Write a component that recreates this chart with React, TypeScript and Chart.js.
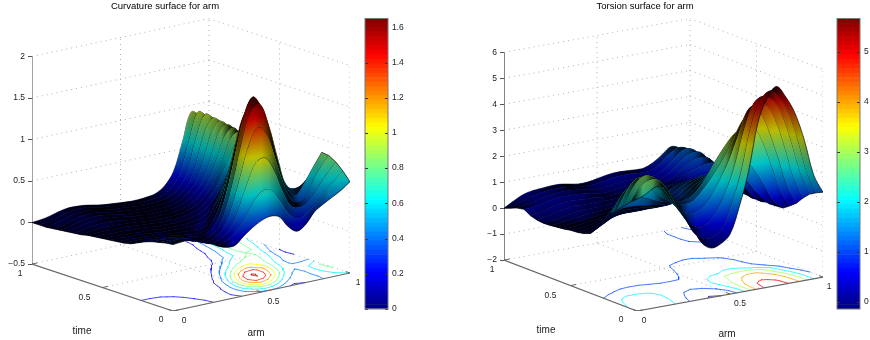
import React, { useEffect, useRef } from "react";
import { Chart, registerables } from "chart.js";

Chart.register(...registerables);

const FONT = "'Liberation Sans', Arial, sans-serif";

const armGrid = [0, .05, .1, .15, .2, .25, .3, .35, .4, .45, .5, .55, .6, .65, .7, .75, .8, .85, .9, .95, 1];
const timeGrid = armGrid;

// rows run from time = 0 to time = 1, columns from arm = 0 to arm = 1
const curvatureRows = [
  [.30,.31,.32,.28,.24,.17,.13,.13,.22,.30,.36,.39,.36,.22,.14,.20,.33,.40,.46,.52,.60],
  [.29,.30,.30,.27,.22,.17,.13,.17,.26,.40,.57,.67,.64,.48,.31,.24,.30,.38,.50,.60,.70],
  [.27,.27,.26,.24,.20,.15,.12,.15,.25,.46,.75,.98,1.01,.84,.56,.36,.33,.38,.52,.66,.78],
  [.25,.25,.24,.22,.18,.14,.11,.13,.22,.44,.80,1.17,1.35,1.24,.91,.57,.37,.36,.52,.70,.83],
  [.22,.22,.21,.19,.16,.12,.09,.10,.16,.36,.72,1.18,1.53,1.58,1.30,.88,.51,.39,.51,.68,.84],
  [.18,.18,.18,.17,.14,.11,.09,.07,.13,.25,.55,.99,1.44,1.64,1.48,1.10,.69,.46,.43,.50,.62],
  [.14,.14,.14,.13,.12,.10,.08,.07,.06,.16,.35,.71,1.14,1.44,1.46,1.21,.84,.53,.38,.35,.38],
  [.12,.12,.12,.11,.10,.09,.07,.06,.05,.06,.21,.44,.76,1.07,1.23,1.15,.91,.62,.40,.30,.26],
  [.11,.11,.10,.10,.09,.08,.07,.06,.05,.05,.07,.27,.47,.73,.93,.99,.91,.72,.49,.30,.20],
  [.10,.10,.09,.09,.08,.07,.06,.06,.05,.05,.07,.10,.29,.48,.70,.83,.86,.80,.60,.32,.18],
  [.09,.09,.08,.08,.07,.07,.06,.05,.05,.05,.06,.08,.14,.28,.52,.69,.79,.84,.71,.40,.20],
  [.08,.09,.08,.08,.07,.07,.06,.05,.05,.04,.05,.07,.11,.19,.32,.50,.68,.80,.76,.50,.28],
  [.07,.08,.08,.08,.08,.07,.06,.05,.04,.04,.05,.06,.09,.15,.26,.44,.66,.84,.84,.62,.38],
  [.05,.07,.08,.08,.08,.07,.06,.05,.04,.04,.04,.05,.07,.11,.20,.36,.60,.84,.88,.70,.47],
  [.04,.06,.08,.09,.09,.08,.06,.05,.04,.03,.03,.04,.05,.09,.16,.30,.54,.82,.90,.76,.55],
  [.03,.05,.08,.09,.09,.08,.07,.05,.04,.03,.03,.03,.04,.07,.13,.25,.48,.80,.91,.82,.62],
  [.02,.04,.07,.09,.10,.09,.07,.05,.04,.03,.02,.02,.03,.05,.10,.20,.43,.77,.92,.84,.68],
  [.01,.02,.06,.09,.10,.09,.07,.05,.04,.03,.02,.02,.02,.04,.07,.16,.37,.74,.93,.86,.73],
  [0,.02,.05,.08,.09,.09,.07,.05,.04,.03,.02,.01,.01,.02,.05,.13,.32,.70,.95,.87,.77],
  [0,.01,.04,.07,.09,.09,.07,.05,.04,.02,.01,.01,.01,.02,.04,.11,.28,.64,.95,.87,.79],
  [0,.01,.03,.06,.08,.08,.07,.05,.03,.02,.01,0,0,.01,.03,.10,.25,.58,.92,.86,.80],
];

const torsionRows = [
  [2.3,2.45,2.65,2.55,2.1,1.4,.8,.15,-.1,0,.3,1.3,2.6,4.4,5.3,5.67,5.2,4.5,3.4,2.0,1.27],
  [2.1,2.6,2.8,2.75,2.3,1.6,1.0,.4,.15,.2,.5,1.4,2.6,4.2,5.1,5.4,5.1,4.45,3.35,2.0,1.15],
  [1.85,2.5,2.85,2.8,2.4,1.8,1.25,.75,.5,.6,1.0,1.7,2.7,4.0,4.9,5.1,4.9,4.3,3.2,1.9,1.0],
  [1.6,2.25,2.65,2.65,2.35,1.9,1.45,1.1,.95,1.05,1.4,2.0,2.7,3.6,4.5,4.7,4.6,4.0,2.9,1.6,.75],
  [1.35,1.9,2.25,2.3,2.15,1.8,1.5,1.25,1.2,1.3,1.65,2.1,2.6,3.2,3.9,4.3,4.25,3.5,2.4,1.2,.45],
  [1.0,1.4,1.7,1.75,1.65,1.5,1.35,1.25,1.2,1.25,1.5,1.95,2.5,3.0,3.4,3.6,3.6,3.0,2.0,.9,.25],
  [.6,.85,1.1,1.2,1.2,1.15,1.1,1.05,1.05,1.05,1.25,1.6,1.85,2.0,2.3,2.4,2.15,1.7,1.05,.4,.07],
  [.3,.5,.7,.9,.95,.95,.9,.85,.85,.9,1.1,1.4,1.6,1.75,1.85,1.85,1.6,1.15,.65,.25,.05],
  [.2,.3,.45,.6,.7,.7,.7,.7,.7,.8,1.0,1.25,1.45,1.55,1.6,1.55,1.35,1.0,.5,.2,.1],
  [.15,.2,.3,.4,.5,.55,.55,.55,.6,.7,.9,1.15,1.3,1.4,1.4,1.35,1.2,.95,.5,.2,.15],
  [.13,.15,.2,.3,.35,.4,.45,.5,.55,.65,.85,1.05,1.15,1.2,1.2,1.15,1.05,.85,.5,.25,.25],
  [.08,.1,.15,.2,.25,.3,.35,.4,.5,.6,.8,.95,1.0,1.05,1.05,.95,.85,.7,.45,.3,.32],
  [.05,.07,.1,.13,.2,.25,.3,.35,.4,.5,.7,.8,.85,.9,.9,.8,.7,.6,.45,.35,.38],
  [.02,.05,.1,.15,.2,.22,.25,.3,.35,.45,.6,.65,.7,.7,.7,.7,.65,.6,.55,.55,.5],
  [0,.05,.13,.2,.25,.25,.25,.3,.3,.4,.5,.55,.55,.55,.55,.6,.7,.75,.8,.8,.6],
  [.03,.1,.2,.27,.32,.3,.3,.3,.3,.35,.42,.45,.45,.45,.45,.55,.75,.9,1.0,1.0,.65],
  [.1,.17,.27,.35,.4,.38,.35,.35,.3,.32,.35,.4,.42,.42,.42,.5,.75,1.0,1.15,1.1,.75],
  [.25,.27,.33,.42,.47,.47,.45,.4,.33,.33,.38,.42,.45,.45,.42,.5,.75,1.05,1.25,1.2,.8],
  [.2,.28,.36,.45,.5,.52,.5,.45,.38,.38,.42,.48,.5,.5,.48,.52,.75,1.05,1.3,1.2,.8],
  [.1,.25,.38,.47,.52,.54,.52,.45,.42,.43,.48,.55,.58,.58,.55,.56,.75,1.05,1.25,1.15,.78],
  [0,.2,.38,.47,.5,.53,.53,.47,.41,.42,.48,.55,.59,.58,.56,.56,.7,.95,1.2,1.05,.7],
];

const curvatureZTicks = [-.5, 0, .5, 1, 1.5, 2];
const torsionZTicks = [-2, -1, 0, 1, 2, 3, 4, 5, 6];
const curvatureBarTicks = [0, .2, .4, .6, .8, 1, 1.2, 1.4, 1.6];
const torsionBarTicks = [0, 1, 2, 3, 4, 5];
const curvatureLevels = [.2, .4, .6, .8, 1, 1.2, 1.4, 1.6];
const torsionLevels = [0, 1, 2, 3, 4, 5];
const floorTicks = [0, .5, 1];
const curvatureRange = [0, 1.65];
const torsionRange = [-.147, 5.67];

const clamp01 = (v: number) => Math.max(0, Math.min(1, v));
const jetParts = (x: number) => [3, 2, 1].map((o) => Math.round(255 * clamp01(1.5 - Math.abs(4 * x - o))));
const jet = (x: number) => `rgb(${jetParts(x).join(",")})`;
const jetAlpha = (x: number, al: number) => `rgba(${jetParts(x).join(",")},${al})`;
const jetStops = [0, .125, .25, .375, .5, .625, .75, .875, 1];
const fmt = (v: number) => (v < 0 ? "\u2212" : "") + String(Math.abs(v));

type Panel = {
  rows: number[][]; zTicks: number[]; levels: number[]; range: number[];
  armDx: number; timeDx: number; armDy: number; timeDy: number; zPx: number;
  canvasLeft: number; canvasWidth: number; axisLeft: number; padRight: number; axisWidth: number;
  title: string; titleX: number; armLabel: number[]; timeLabel: number[];
  armOffsets: number[][]; timeOffsets: number[][];
};

const panels: Panel[] = [
  {
    rows: curvatureRows, zTicks: curvatureZTicks, levels: curvatureLevels, range: curvatureRange,
    armDx: 177, timeDx: 141, armDy: 38, timeDy: 47, zPx: 83,
    canvasLeft: 0, canvasWidth: 370, axisLeft: 32, padRight: 20, axisWidth: 1.2,
    title: "Curvature surface for arm", titleX: 165, armLabel: [256, 333], timeLabel: [82, 331],
    armOffsets: [[11, 10], [12, 10], [8, 10]], timeOffsets: [[-12, 9], [-18, 10], [-12, 10]],
  },
  {
    rows: torsionRows, zTicks: torsionZTicks, levels: torsionLevels, range: torsionRange,
    armDx: 186, timeDx: 133, armDy: 34, timeDy: 51, zPx: 26,
    canvasLeft: 440, canvasWidth: 400, axisLeft: 64, padRight: 17, axisWidth: 1.6,
    title: "Torsion surface for arm", titleX: 645, armLabel: [727, 334], timeLabel: [546, 330],
    armOffsets: [[7, 10], [10, 10], [6, 10]], timeOffsets: [[-16, 9], [-20, 10], [-12, 10]],
  },
];

function buildDatasets(p: Panel) {
  const zMin = p.zTicks[0];
  const zMax = p.zTicks[p.zTicks.length - 1];
  const width = p.armDx + p.timeDx;
  const pt = (a: number, t: number, z: number) => ({
    x: (p.armDx * a + p.timeDx * (1 - t)) / width,
    y: z + (p.armDy * a - p.timeDy * (1 - t)) / p.zPx,
  });
  const line = (data: any[], color: string, w: number, dash: number[] = []) => ({
    data, showLine: true, pointRadius: 0, borderColor: color, borderWidth: w, borderDash: dash,
    fill: false, tension: 0,
  });
  const out: any[] = [];
  const dot = (data: any[]) => out.push(line(data, "#b0b0b0", 1, [1, 4]));
  // walls
  p.zTicks.forEach((z) => {
    dot([pt(0, 1, z), pt(1, 1, z)]);
    dot([pt(1, 1, z), pt(1, 0, z)]);
  });
  dot([pt(.5, 1, zMin), pt(.5, 1, zMax)]);
  dot([pt(1, 1, zMin), pt(1, 1, zMax)]);
  dot([pt(1, .5, zMin), pt(1, .5, zMax)]);
  dot([pt(1, 0, zMin), pt(1, 0, zMax)]);
  // floor
  dot([pt(.5, 0, zMin), pt(.5, 1, zMin)]);
  dot([pt(0, .5, zMin), pt(1, .5, zMin)]);

  p.levels.forEach((lv) => {
    const segs: any[] = [];
    for (let j = 0; j < timeGrid.length - 1; j++) {
      for (let i = 0; i < armGrid.length - 1; i++) {
        const c = [
          [armGrid[i], timeGrid[j], p.rows[j][i]],
          [armGrid[i + 1], timeGrid[j], p.rows[j][i + 1]],
          [armGrid[i + 1], timeGrid[j + 1], p.rows[j + 1][i + 1]],
          [armGrid[i], timeGrid[j + 1], p.rows[j + 1][i]],
        ];
        const hits: any[] = [];
        for (let k = 0; k < 4; k++) {
          const A = c[k];
          const B = c[(k + 1) % 4];
          if ((A[2] > lv) !== (B[2] > lv)) {
            const f = (lv - A[2]) / (B[2] - A[2]);
            hits.push(pt(A[0] + f * (B[0] - A[0]), A[1] + f * (B[1] - A[1]), zMin));
          }
        }
        for (let k = 0; k + 1 < hits.length; k += 2) {
          segs.push(hits[k], hits[k + 1], { x: NaN, y: NaN });
        }
      }
    }
    const col = jetAlpha((lv - p.range[0]) / (p.range[1] - p.range[0]), 0.72);
    out.push({ ...line(segs, col, 1), borderCapStyle: "round", spanGaps: false });
  });

  // axes
  const axisCol = "#666";
  out.push(line([pt(0, 1, zMin), pt(0, 1, zMax)], axisCol, p.axisWidth));
  out.push(line([pt(0, 1, zMin), pt(0, 0, zMin), pt(1, 0, zMin)], axisCol, 1.2));
  floorTicks.forEach((v) => {
    out.push(line([pt(v, 0, zMin), pt(v, .03, zMin)], axisCol, 1));
    out.push(line([pt(0, v, zMin), pt(.03, v, zMin)], axisCol, 1));
  });

  // surface strips between neighbouring time rows, far strips first
  const n = armGrid.length;
  const tension = 0.35;
  const rowLine = (j: number) => ({
    ...line(armGrid.map((a, i) => pt(a, timeGrid[j], p.rows[j][i])), "rgba(0,0,0,0.85)", 0.75),
    tension,
  });
  const zSpan = p.range[1] - p.range[0];
  const L = Math.hypot(p.armDx, p.armDy);
  out.push(rowLine(n - 1));
  for (let j = n - 2; j >= 0; j--) {
    const t0 = timeGrid[j], t1 = timeGrid[j + 1], tm = (t0 + t1) / 2;
    const near = armGrid.map((a, i) => pt(a, t0, p.rows[j][i]));
    const far = armGrid.map((a, i) => pt(a, t1, p.rows[j + 1][i])).reverse();
    // repeated corners keep the strip's ends sharp under the curve tension
    const shape = [near[0], ...near, near[n - 1], far[0], ...far, far[n - 1], near[0]];
    const colourFill = (c: any) => {
      const { chart } = c;
      if (!chart.chartArea) return "transparent";
      const { x: sx, y: sy } = chart.scales;
      const o = pt(0, tm, p.range[0]);
      const x0 = sx.getPixelForValue(o.x);
      const y0 = sy.getPixelForValue(o.y);
      const d = (p.zPx * zSpan * p.armDx) / L;
      const g = chart.ctx.createLinearGradient(x0, y0, x0 - (d * p.armDy) / L, y0 - (d * p.armDx) / L);
      jetStops.forEach((s) => g.addColorStop(s, jet(s)));
      return g;
    };
    const shadeFill = (c: any) => {
      const { chart } = c;
      if (!chart.chartArea) return "transparent";
      const { x: sx } = chart.scales;
      const g = chart.ctx.createLinearGradient(
        sx.getPixelForValue(pt(0, tm, 0).x), 0, sx.getPixelForValue(pt(1, tm, 0).x), 0,
      );
      const da = armGrid[1] - armGrid[0];
      armGrid.forEach((a, i) => {
        const lo = Math.max(0, i - 1), hi = Math.min(n - 1, i + 1);
        const dzA = ((p.rows[j][hi] + p.rows[j + 1][hi]) - (p.rows[j][lo] + p.rows[j + 1][lo])) / (2 * (hi - lo));
        const dzT = p.rows[j + 1][i] - p.rows[j][i];
        const ax = p.armDx * da, ay = p.armDy * da + p.zPx * dzA;
        const tx = -p.timeDx * (t1 - t0), ty = p.timeDy * (t1 - t0) + p.zPx * dzT;
        const area = Math.abs(ax * ty - ay * tx);
        const alpha = Math.min(0.93, (1.8 * (Math.hypot(ax, ay) + Math.hypot(tx, ty))) / Math.max(area, 1));
        g.addColorStop(a, `rgba(0,0,0,${alpha.toFixed(3)})`);
      });
      return g;
    };
    const base = { data: shape, showLine: true, pointRadius: 0, tension, fill: "shape", borderWidth: 0 };
    out.push({ ...base, backgroundColor: colourFill });
    out.push({ ...base, backgroundColor: shadeFill });
    out.push(line([near[0], pt(0, t1, p.rows[j + 1][0])], "rgba(0,0,0,0.85)", 0.8));
    out.push(line([near[n - 1], pt(1, t1, p.rows[j + 1][n - 1])], "rgba(0,0,0,0.85)", 0.8));
    out.push(rowLine(j));
  }
  // chart.js paints the first dataset last
  return { datasets: out.reverse(), pt };
}

function makePanel(canvas: HTMLCanvasElement, p: Panel) {
  const { datasets, pt } = buildDatasets(p);
  const zMin = p.zTicks[0];
  const yMin = zMin - p.timeDy / p.zPx;
  const yMax = p.zTicks[p.zTicks.length - 1] + p.armDy / p.zPx;
  const overlay = {
    id: "overlay",
    afterDraw(chart: any) {
      const { ctx, scales } = chart;
      const px = (q: any) => [scales.x.getPixelForValue(q.x), scales.y.getPixelForValue(q.y)];
      ctx.save();
      ctx.textAlign = "center";
      ctx.textBaseline = "middle";
      ctx.fillStyle = "#222";
      ctx.font = `8.5px ${FONT}`;
      floorTicks.forEach((v, k) => {
        const [ax, ay] = px(pt(v, 0, zMin));
        ctx.fillText(String(v), ax + p.armOffsets[k][0], ay + p.armOffsets[k][1]);
        const [tx, ty] = px(pt(0, v, zMin));
        ctx.fillText(String(v), tx + p.timeOffsets[k][0], ty + p.timeOffsets[k][1]);
      });
      ctx.font = `10px ${FONT}`;
      ctx.fillText("arm", p.armLabel[0] - p.canvasLeft, p.armLabel[1]);
      ctx.fillText("time", p.timeLabel[0] - p.canvasLeft, p.timeLabel[1]);
      ctx.fillStyle = "#000";
      ctx.font = `9.5px ${FONT}`;
      ctx.fillText(p.title, p.titleX - p.canvasLeft, 6.5);
      ctx.restore();
    },
  };
  return new Chart(canvas, {
    type: "scatter",
    data: { datasets },
    plugins: [overlay],
    options: {
      responsive: false,
      animation: false,
      events: [],
      layout: { padding: { left: 0, right: p.padRight, top: 18.5, bottom: 29 } },
      plugins: { legend: { display: false }, tooltip: { enabled: false }, title: { display: false } },
      scales: {
        x: { type: "linear", display: false, min: 0, max: 1 },
        y: {
          type: "linear", min: yMin, max: yMax,
          afterFit: (s: any) => { s.width = p.axisLeft; },
          afterBuildTicks: (s: any) => { s.ticks = p.zTicks.map((value) => ({ value })); },
          border: { display: false },
          grid: { drawOnChartArea: false, drawTicks: true, tickLength: 4, color: "#555" },
          ticks: {
            autoSkip: false, padding: 3, color: "#222", font: { family: FONT, size: 8.5 },
            callback: (v: any) => fmt(Number(v)),
          },
        },
      },
    } as any,
  });
}

function makeBar(canvas: HTMLCanvasElement, range: number[], ticks: number[], axisWidth: number) {
  const steps = 64;
  const h = (range[1] - range[0]) / steps;
  const datasets = Array.from({ length: steps }, (_, k) => ({
    data: [[range[0] + k * h, range[0] + (k + 1) * h]],
    backgroundColor: jet((k + .5) / steps),
    grouped: false, barPercentage: 1, categoryPercentage: 1, borderWidth: 0,
  }));
  const frame = {
    id: "frame",
    afterDraw(chart: any) {
      const { ctx, chartArea: a, scales } = chart;
      ctx.save();
      ctx.strokeStyle = "#333";
      ctx.lineWidth = 1;
      ticks.forEach((v) => {
        const y = Math.round(scales.y.getPixelForValue(v)) + .5;
        ctx.beginPath();
        ctx.moveTo(a.left, y); ctx.lineTo(a.left + 3, y);
        ctx.moveTo(a.right, y); ctx.lineTo(a.right - 3, y);
        ctx.stroke();
      });
      ctx.strokeStyle = "#777";
      ctx.strokeRect(a.left, a.top, a.right - a.left, a.bottom - a.top);
      ctx.restore();
    },
  };
  return new Chart(canvas, {
    type: "bar",
    data: { labels: [""], datasets },
    plugins: [frame],
    options: {
      responsive: false,
      animation: false,
      events: [],
      layout: { padding: { left: 10, right: 0, top: 18.5, bottom: 31 } },
      plugins: { legend: { display: false }, tooltip: { enabled: false } },
      scales: {
        x: { display: false },
        y: {
          position: "right", min: range[0], max: range[1],
          afterFit: (s: any) => { s.width = axisWidth; },
          afterBuildTicks: (s: any) => { s.ticks = ticks.map((value) => ({ value })); },
          border: { display: false },
          grid: { drawOnChartArea: false, drawTicks: false },
          ticks: {
            autoSkip: false, padding: 4, color: "#222", font: { family: FONT, size: 8.5 },
            callback: (v: any) => fmt(Number(v)),
          },
        },
      },
    } as any,
  });
}

export default function App() {
  const c1 = useRef<HTMLCanvasElement>(null);
  const c2 = useRef<HTMLCanvasElement>(null);
  const b1 = useRef<HTMLCanvasElement>(null);
  const b2 = useRef<HTMLCanvasElement>(null);
  useEffect(() => {
    const charts = [
      makePanel(c1.current!, panels[0]),
      makePanel(c2.current!, panels[1]),
      makeBar(b1.current!, curvatureRange, curvatureBarTicks, 26),
      makeBar(b2.current!, torsionRange, torsionBarTicks, 11),
    ];
    return () => charts.forEach((c) => c.destroy());
  }, []);
  const abs = (left: number): React.CSSProperties => ({ position: "absolute", left, top: 0 });
  return (
    <div style={{ position: "fixed", left: 0, top: 0, width: 870, height: 340, background: "#fff", overflow: "hidden" }}>
      <canvas ref={c1} width={panels[0].canvasWidth} height={340} style={abs(panels[0].canvasLeft)} />
      <canvas ref={c2} width={panels[1].canvasWidth} height={340} style={abs(panels[1].canvasLeft)} />
      <canvas ref={b1} width={59} height={340} style={abs(355)} />
      <canvas ref={b2} width={44} height={340} style={abs(826.5)} />
    </div>
  );
}
